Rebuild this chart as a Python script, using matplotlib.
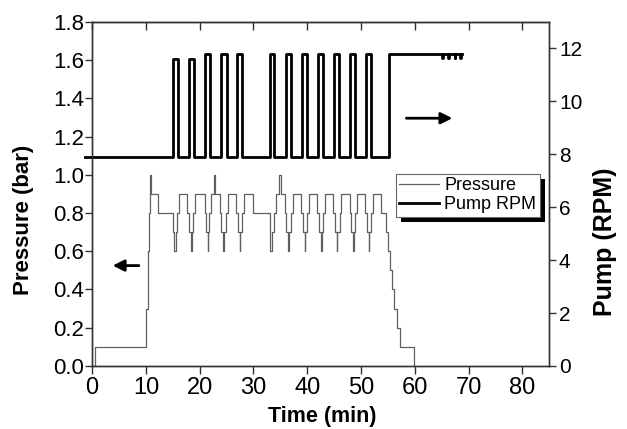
import matplotlib
matplotlib.use('Agg')
import matplotlib.pyplot as plt
from matplotlib.patches import Rectangle

plt.rcParams['font.family'] = ['Liberation Sans', 'DejaVu Sans']

# pressure trace (bar), step changes
press_t = [0.0, 0.6, 10.1, 10.3, 10.5, 10.7, 10.85, 12.25,
           14.95, 15.2, 15.5, 15.85, 16.15,
           17.65, 18.0, 18.35, 18.5, 18.8, 19.07,
           20.93, 21.2, 21.45, 21.6, 21.8, 22.04, 22.7, 22.8,
           23.72, 24.0, 24.35, 24.6, 24.95, 25.26,
           26.82, 27.1, 27.4, 27.55, 27.9, 28.24,
           29.9,
           33.0, 33.1, 33.5, 33.8, 34.25, 34.75, 35.2,
           35.8, 36.1, 36.45, 36.6, 37.0, 37.35,
           38.9, 39.2, 39.5, 39.65, 40.0, 40.3,
           41.8, 42.1, 42.5, 42.65, 43.0, 43.35,
           44.8, 45.1, 45.45, 45.6, 46.0, 46.3,
           47.9, 48.15, 48.45, 48.6, 48.9, 49.2,
           50.8, 51.05, 51.4, 51.55, 51.9, 52.2,
           53.8, 54.6, 55.0, 55.3, 55.75, 56.1, 56.6, 57.3, 59.8]
press_p = [0.0, 0.1, 0.3, 0.6, 0.8, 1.0, 0.9, 0.8,
           0.7, 0.6, 0.7, 0.8, 0.9,
           0.8, 0.7, 0.6, 0.7, 0.8, 0.9,
           0.8, 0.7, 0.6, 0.7, 0.8, 0.9, 1.0, 0.9,
           0.8, 0.7, 0.6, 0.7, 0.8, 0.9,
           0.8, 0.7, 0.6, 0.7, 0.8, 0.9,
           0.8,
           0.7, 0.6, 0.7, 0.8, 0.9, 1.0, 0.9,
           0.8, 0.7, 0.6, 0.7, 0.8, 0.9,
           0.8, 0.7, 0.6, 0.7, 0.8, 0.9,
           0.8, 0.7, 0.6, 0.7, 0.8, 0.9,
           0.8, 0.7, 0.6, 0.7, 0.8, 0.9,
           0.8, 0.7, 0.6, 0.7, 0.8, 0.9,
           0.8, 0.7, 0.6, 0.7, 0.8, 0.9,
           0.8, 0.7, 0.6, 0.5, 0.4, 0.3, 0.2, 0.1, 0.0]

# pump RPM: baseline, pulses (start, end, top), final high run
pump_base = 7.9
pump_start = -1.3
pulse_on = [15.0, 18.0, 21.05, 24.0, 27.0, 33.0, 36.0, 39.0, 42.0, 45.0, 47.9, 51.0]
pulse_off = [15.9, 18.9, 22.0, 25.1, 27.9, 33.9, 36.9, 39.9, 42.9, 45.9, 48.9, 51.9]
pulse_top = [11.6, 11.6, 11.8, 11.8, 11.8, 11.8, 11.8, 11.8, 11.8, 11.8, 11.8, 11.8]
final_on = 55.2
final_level = 11.8
tail_dips = [65.0, 66.2, 67.4, 68.4]
pump_end = 68.8

pump_t = [pump_start]
pump_r = [pump_base]
for a, b, h in zip(pulse_on, pulse_off, pulse_top):
    pump_t += [a, b]
    pump_r += [h, pump_base]
pump_t.append(final_on)
pump_r.append(final_level)
for d in tail_dips:
    pump_t += [d, d + 0.15]
    pump_r += [11.65, final_level]
pump_t.append(pump_end)
pump_r.append(final_level)

fig = plt.figure(figsize=(6.27, 4.29), dpi=100)
ax = fig.add_axes([0.147, 0.147, 0.729, 0.802])
ax2 = ax.twinx()

l1, = ax.plot(press_t, press_p, drawstyle='steps-post', color='#606060', lw=0.9, label='Pressure')
l2, = ax2.plot(pump_t, pump_r, drawstyle='steps-post', color='black', lw=2.0, label='Pump RPM', clip_on=False)

ax.set_xlim(0, 85)
ax.set_ylim(0, 1.8)
ax2.set_ylim(0, 13)
ax.set_xticks(range(0, 90, 10))
ax.set_yticks([i * 0.2 for i in range(10)])
ax.set_yticklabels(['%.1f' % (i * 0.2) for i in range(10)])
ax2.set_yticks(range(0, 14, 2))

for a in (ax, ax2):
    for s in a.spines.values():
        s.set_color('#333333')
        s.set_linewidth(1.0)
ax.tick_params(axis='x', direction='out', length=6, width=1, color='#333333', labelsize=17, pad=2)
ax.tick_params(axis='y', direction='out', length=5, width=1, color='#333333', labelsize=16, pad=1)
ax2.tick_params(axis='y', direction='out', length=5, width=1, color='#333333', labelsize=15, pad=2)

sec = ax.secondary_xaxis('top')
sec.set_xticks(range(0, 90, 10))
sec.tick_params(direction='in', length=6, width=1, color='#333333', labeltop=False)
sec.spines['top'].set_color('#333333')

ax.set_xlabel('Time (min)', fontsize=15.5, fontweight='bold')
ax.set_ylabel('Pressure (bar)', fontsize=16, fontweight='bold')
ax2.set_ylabel('Pump (RPM)', fontsize=18, fontweight='bold')
ax.xaxis.set_label_coords(0.503, -0.115)
ax.yaxis.set_label_coords(-0.128, 0.425)
ax2.yaxis.set_label_coords(1.096, 0.36)

# direction arrows
ax.annotate('', xy=(3.3, 0.525), xytext=(9.2, 0.525),
            arrowprops=dict(arrowstyle='-|>', lw=2, color='black', mutation_scale=17))
ax2.annotate('', xy=(67.5, 9.36), xytext=(57.9, 9.36),
             arrowprops=dict(arrowstyle='-|>', lw=2, color='black', mutation_scale=17))

leg = ax2.legend(handles=[l1, l2], loc='upper left', bbox_to_anchor=(0.664, 0.559),
                 fontsize=13, frameon=True, fancybox=False, framealpha=1,
                 edgecolor='#666666', handlelength=2.2, handletextpad=0.3,
                 borderpad=0.2, labelspacing=0.1, borderaxespad=0)
leg.get_frame().set_linewidth(0.8)

# black drop shadow behind the legend
fig.canvas.draw()
bb = leg.get_window_extent().transformed(ax2.transAxes.inverted())
dx = 5 / (ax2.bbox.width)
dy = 5 / (ax2.bbox.height)
shadow = Rectangle((bb.x0 + dx, bb.y0 - dy), bb.width, bb.height, transform=ax2.transAxes,
                   facecolor='black', edgecolor='none', zorder=4, clip_on=False)
ax2.add_patch(shadow)

fig.savefig('out.png', dpi=100)
